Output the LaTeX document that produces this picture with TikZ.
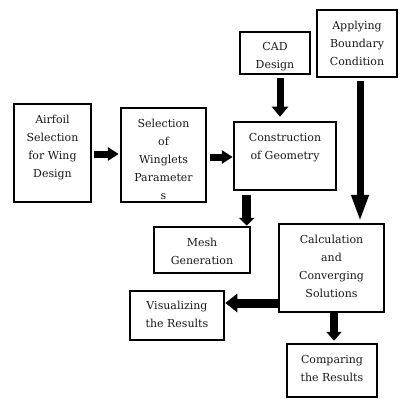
\documentclass[tikz,border=0pt]{standalone}
\usepackage{fontspec}
\setmainfont{DejaVu Serif}
\usetikzlibrary{arrows.meta,calc}
\begin{document}
\begin{tikzpicture}[x=1pt,y=-1pt,
  box/.style={draw=black, line width=2.5pt, rectangle, inner sep=0pt, fill=white},
  lbl/.style={inner sep=0pt, anchor=north, align=center, text=black!90,
    font=\fontsize{11}{18}\selectfont},
  barrow/.style={line width=#1, draw=black}]
\useasboundingbox[fill=white] (0,0) rectangle (400,406);
% boxes
\node[box, minimum width=77pt, minimum height=98pt] (air) at (52.5,153) {};
\node[box, minimum width=85pt, minimum height=94pt] (sel) at (163.5,155) {};
\node[box, minimum width=70pt, minimum height=42pt] (cad) at (275,53) {};
\node[box, minimum width=80pt, minimum height=67pt] (app) at (357,43.5) {};
\node[box, minimum width=102pt, minimum height=68pt] (con) at (285,156) {};
\node[box, minimum width=96pt, minimum height=46pt] (mesh) at (202,250) {};
\node[box, minimum width=94pt, minimum height=49pt] (vis) at (177,315.5) {};
\node[box, minimum width=105pt, minimum height=88pt] (calc) at (331.5,268) {};
\node[box, minimum width=90pt, minimum height=53pt] (comp) at (332,370.5) {};
% labels
\node[lbl] (airt) at ($(air.north)+(0,12)$) {Airfoil\\Selection\\for Wing\\Design};
\node[lbl] (selt) at ($(sel.north)+(0,12)$) {Selection\\of\\Winglets\\Parameter\\s};
\node[lbl] (cadt) at ($(cad.north)+(0,11.5)$) {CAD\\Design};
\node[lbl] (appt) at ($(app.north)+(0,12)$) {Applying\\Boundary\\Condition};
\node[lbl] (cont) at ($(con.north)+(0,12)$) {Construction\\of Geometry};
\node[lbl] (mesht) at ($(mesh.north)+(0,12)$) {Mesh\\Generation};
\node[lbl] (vist) at ($(vis.north)+(0,11.5)$) {Visualizing\\the Results};
\node[lbl] (calct) at ($(calc.north)+(0,12)$) {Calculation\\and\\Converging\\Solutions};
\node[lbl] (compt) at ($(comp.north)+(0,12)$) {Comparing\\the Results};
% arrows
\draw[barrow=7pt, -{Triangle[length=11pt,width=13pt]}]
  ([xshift=2pt,yshift=-1pt]air.east) -- ([yshift=-1pt,xshift=-1pt]air.east -| sel.west);
\draw[barrow=7pt, -{Triangle[length=11pt,width=13pt]}]
  ([xshift=3pt,yshift=-2pt]sel.east) -- ([yshift=-2pt]sel.east -| con.west);
\draw[barrow=7pt, -{Triangle[length=10pt,width=16pt]}, shorten >=4pt]
  ([xshift=5pt,yshift=-3pt]cad.south) -- ([xshift=5pt]cad.south |- con.north);
\draw[barrow=7pt, -{Triangle[length=27pt,width=16pt]}, shorten >=1pt]
  ([xshift=3pt,yshift=-3pt]app.south) -- ([xshift=3pt]app.south |- calc.north);
\draw[barrow=9pt, -{Triangle[length=8pt,width=15pt]}]
  ([xshift=14pt,yshift=-4pt]con.south west) -- ([xshift=14pt]con.south west |- mesh.north);
\draw[barrow=9pt, -{Triangle[length=12pt,width=18pt]}]
  ([yshift=-35pt]calc.west) -- ([yshift=-35pt]calc.west -| vis.east);
\draw[barrow=8pt, -{Triangle[length=9pt,width=15pt]}, shorten >=2pt]
  ([xshift=2.5pt]calc.south) -- ([xshift=2.5pt]calc.south |- comp.north);
\end{tikzpicture}
\end{document}
